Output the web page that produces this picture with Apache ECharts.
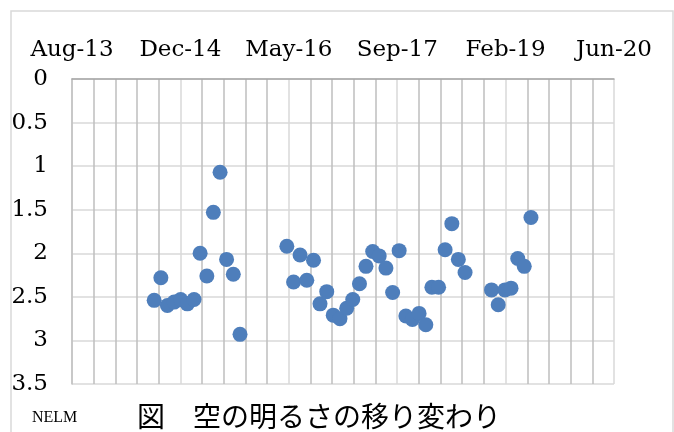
<!DOCTYPE html>
<html>
<head>
<meta charset="utf-8">
<script src="https://cdn.jsdelivr.net/npm/echarts@6/dist/echarts.min.js"></script>
<style>
html,body{margin:0;padding:0;background:#fff;}
#chart{width:674px;height:432px;}
</style>
</head>
<body>
<div id="chart"></div>
<script>
const dates = [
  '2014-08-28','2014-09-28','2014-10-28','2014-11-28','2014-12-28','2015-01-28','2015-02-28',
  '2015-03-28','2015-04-28','2015-05-28','2015-06-28','2015-07-28','2015-08-28','2015-09-28',
  '2016-05-01','2016-06-01','2016-07-01','2016-08-01','2016-09-01','2016-10-01','2016-11-01',
  '2016-12-01','2017-01-01','2017-02-01','2017-03-01','2017-04-01','2017-05-01','2017-06-01',
  '2017-07-01','2017-08-01','2017-09-01','2017-10-01','2017-11-01','2017-12-01','2018-01-01',
  '2018-02-01','2018-03-01','2018-04-01','2018-05-01','2018-06-01','2018-07-01','2018-08-01',
  '2018-12-01','2019-01-01','2019-02-01','2019-03-01','2019-04-01','2019-05-01','2019-06-01'
];
const values = [
  2.54, 2.28, 2.60, 2.56, 2.53, 2.58, 2.53,
  2.00, 2.26, 1.53, 1.07, 2.07, 2.24, 2.93,
  1.92, 2.33, 2.02, 2.31, 2.08, 2.58, 2.44,
  2.71, 2.75, 2.63, 2.53, 2.35, 2.15, 1.98,
  2.03, 2.17, 2.45, 1.97, 2.72, 2.76, 2.69,
  2.82, 2.39, 2.39, 1.96, 1.66, 2.07, 2.22,
  2.42, 2.59, 2.42, 2.40, 2.06, 2.15, 1.59
];
const title = '図\u3000空の明るさの移り変わり';
const source = 'NELM';
const monthNames = ['Jan','Feb','Mar','Apr','May','Jun','Jul','Aug','Sep','Oct','Nov','Dec'];

const EPOCH = Date.UTC(1899, 11, 30);
function toSerial(s) {
  const p = s.split('-').map(Number);
  return (Date.UTC(p[0], p[1] - 1, p[2]) - EPOCH) / 86400000;
}
function serialLabel(v) {
  const d = new Date(EPOCH + v * 86400000);
  return monthNames[d.getUTCMonth()] + '-' + String(d.getUTCFullYear() % 100).padStart(2, '0');
}
const points = dates.map((d, i) => [toSerial(d), values[i]]);

const chart = echarts.init(document.getElementById('chart'), null, {renderer: 'canvas'});
const serif = 'DejaVu Serif';
chart.setOption({
  animation: false,
  backgroundColor: '#fff',
  grid: {left: 72, right: 60, top: 79, bottom: 48},
  xAxis: {
    type: 'value',
    position: 'top',
    min: 41500, max: 44000, interval: 500,
    axisLine: {show: true, lineStyle: {color: '#A6A6A6', width: 1.5}},
    axisTick: {show: false},
    axisLabel: {formatter: serialLabel, color: '#000', fontFamily: serif, fontSize: 23, margin: 17},
    splitLine: {show: true, lineStyle: {color: '#D9D9D9', width: 1.5}},
    minorTick: {show: false, splitNumber: 5},
    minorSplitLine: {show: true, lineStyle: {color: '#BFBFBF', width: 1.5}}
  },
  yAxis: {
    type: 'value',
    inverse: true,
    min: 0, max: 3.5, interval: 0.5,
    axisLine: {show: true, lineStyle: {color: '#BFBFBF', width: 1.5}},
    axisTick: {show: false},
    axisLabel: {color: '#000', fontFamily: serif, fontSize: 23, margin: 24},
    splitLine: {show: true, lineStyle: {color: '#D9D9D9', width: 1.5}}
  },
  series: [{
    type: 'scatter',
    data: points,
    symbol: 'circle',
    symbolSize: 15,
    itemStyle: {color: '#4E7EBB', opacity: 1},
    z: 5
  }],
  graphic: [
    {type: 'rect', shape: {x: 11, y: 11, width: 662, height: 440}, style: {fill: 'none', stroke: '#D9D9D9', lineWidth: 1.5}, silent: true},
    {type: 'text', left: 32, top: 410, style: {text: source, font: '16px "Liberation Serif"', fill: '#000'}},
    {type: 'text', left: 137, top: 402, style: {text: title, font: '28px "Noto Sans CJK JP"', fill: '#000'}}
  ]
});
</script>
</body>
</html>
